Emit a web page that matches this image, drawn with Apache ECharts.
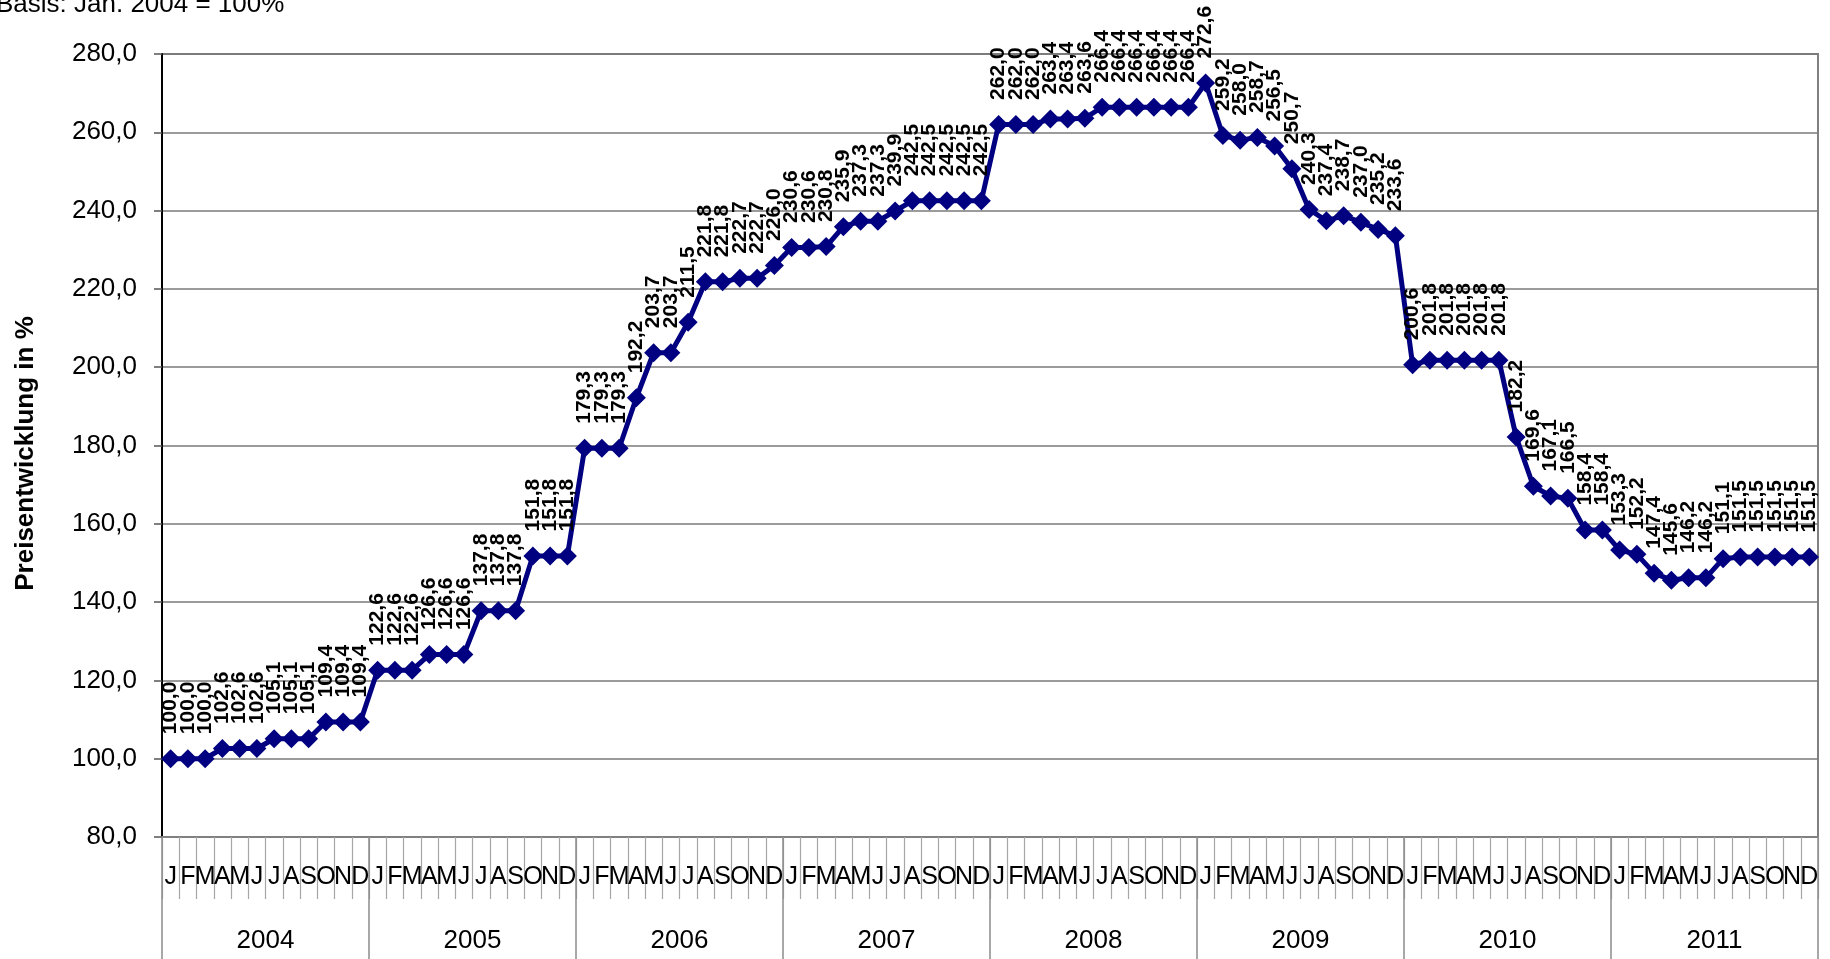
<!DOCTYPE html>
<html>
<head>
<meta charset="utf-8">
<script src="https://cdn.jsdelivr.net/npm/echarts@6/dist/echarts.min.js"></script>
<style>
html,body{margin:0;padding:0;background:#fff;}
#chart{width:1830px;height:959px;}
</style>
</head>
<body>
<div id="chart"></div>
<script>
var years = ['2004','2005','2006','2007','2008','2009','2010','2011'];
var monthLetters = ['J','F','M','A','M','J','J','A','S','O','N','D'];
var v2004 = [100.0,100.0,100.0,102.6,102.6,102.6,105.1,105.1,105.1,109.4,109.4,109.4];
var v2005 = [122.6,122.6,122.6,126.6,126.6,126.6,137.8,137.8,137.8,151.8,151.8,151.8];
var v2006 = [179.3,179.3,179.3,192.2,203.7,203.7,211.5,221.8,221.8,222.7,222.7,226.0];
var v2007 = [230.6,230.6,230.8,235.9,237.3,237.3,239.9,242.5,242.5,242.5,242.5,242.5];
var v2008 = [262.0,262.0,262.0,263.4,263.4,263.6,266.4,266.4,266.4,266.4,266.4,266.4];
var v2009 = [272.6,259.2,258.0,258.7,256.5,250.7,240.3,237.4,238.7,237.0,235.2,233.6];
var v2010 = [200.6,201.8,201.8,201.8,201.8,201.8,182.2,169.6,167.1,166.5,158.4,158.4];
var v2011 = [153.3,152.2,147.4,145.6,146.2,146.2,151.1,151.5,151.5,151.5,151.5,151.5];
var yMin = 80, yMax = 280, yStep = 20;

var values = [].concat(v2004, v2005, v2006, v2007, v2008, v2009, v2010, v2011);
var categories = [];
years.forEach(function (y) {
  monthLetters.forEach(function (m, i) { categories.push(y + '-' + (i + 1)); });
});
function fmt(v) { return Number(v).toFixed(1).replace('.', ','); }

var FONT = '"Liberation Sans", Arial, sans-serif';
var NARROW = '"Liberation Sans Narrow", "Arial Narrow", "Liberation Sans", Arial, sans-serif';
var chart = echarts.init(document.getElementById('chart'), null, {renderer: 'canvas'});
chart.setOption({
  animation: false,
  backgroundColor: '#ffffff',
  title: {
    text: 'Basis: Jan. 2004 = 100%',
    left: -4, top: -8, padding: 0,
    textStyle: {fontFamily: FONT, fontSize: 26, fontWeight: 'normal', color: '#000'}
  },
  grid: {
    left: 162, right: 12, top: 54, bottom: 122,
    show: true, borderColor: '#808080', borderWidth: 2, backgroundColor: 'transparent'
  },
  xAxis: [{
    type: 'category',
    data: categories,
    position: 'bottom',
    boundaryGap: true,
    axisLine: {show: true, lineStyle: {color: '#808080', width: 2}},
    axisTick: {show: true, interval: 0, length: 62, lineStyle: {color: '#a6a6a6', width: 1.2}},
    axisLabel: {
      interval: 0, margin: 28, fontFamily: NARROW, fontSize: 25, color: '#000',
      formatter: function (v, idx) { return monthLetters[idx % 12]; }
    },
    splitLine: {show: false}
  }, {
    type: 'category',
    data: years,
    position: 'bottom',
    offset: 0,
    boundaryGap: true,
    axisLine: {show: false},
    axisTick: {show: true, interval: 0, length: 124, lineStyle: {color: '#8c8c8c', width: 1.5}},
    axisLabel: {interval: 0, margin: 91, fontFamily: FONT, fontSize: 26, color: '#000'},
    splitLine: {show: false}
  }],
  yAxis: {
    type: 'value',
    min: yMin, max: yMax, interval: yStep,
    name: 'Preisentwicklung in %',
    nameLocation: 'middle',
    nameRotate: 90,
    nameGap: 123,
    nameTextStyle: {fontFamily: FONT, fontSize: 26, fontWeight: 'bold', color: '#000', padding: [0, 16, 0, 0]},
    axisLine: {show: true, lineStyle: {color: '#000', width: 2}},
    axisTick: {show: true, inside: false, length: 8, lineStyle: {color: '#555', width: 1.5}},
    axisLabel: {margin: 25, fontFamily: FONT, fontSize: 26, color: '#000', formatter: fmt},
    splitLine: {show: true, lineStyle: {color: '#7a7a7a', width: 1.5}}
  },
  series: [{
    type: 'line',
    xAxisIndex: 0,
    data: values,
    symbol: 'diamond',
    symbolSize: [19, 19],
    itemStyle: {color: '#000080'},
    lineStyle: {color: '#000080', width: 5},
    label: {
      show: true,
      position: 'top',
      distance: 15,
      rotate: 90,
      align: 'left',
      verticalAlign: 'middle',
      fontFamily: FONT, fontSize: 21, fontWeight: 'bold', color: '#000',
      formatter: function (p) { return fmt(p.value); }
    },
    labelLayout: {hideOverlap: false},
    z: 3
  }]
});
</script>
</body>
</html>
